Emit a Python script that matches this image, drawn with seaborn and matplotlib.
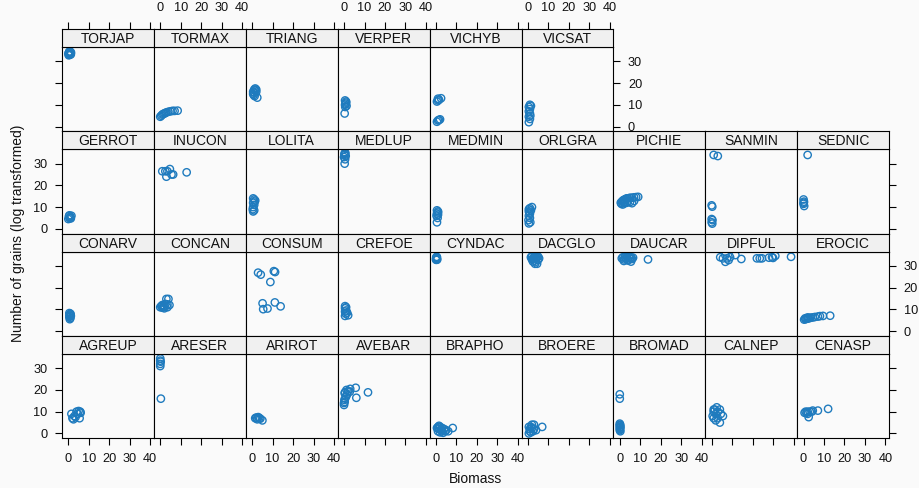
import matplotlib
matplotlib.use("Agg")
import matplotlib.pyplot as plt
import seaborn as sns
import pandas as pd

# ---------------- data ----------------
row_top = ["TORJAP", "TORMAX", "TRIANG", "VERPER", "VICHYB", "VICSAT"]
row_2 = ["GERROT", "INUCON", "LOLITA", "MEDLUP", "MEDMIN", "ORLGRA", "PICHIE", "SANMIN", "SEDNIC"]
row_3 = ["CONARV", "CONCAN", "CONSUM", "CREFOE", "CYNDAC", "DACGLO", "DAUCAR", "DIPFUL", "EROCIC"]
row_bottom = ["AGREUP", "ARESER", "ARIROT", "AVEBAR", "BRAPHO", "BROERE", "BROMAD", "CALNEP", "CENASP"]

species = row_top + row_2 + row_3 + row_bottom

biomass = [
    [0, 0.3, 0.5, 0.8, 1, 1.2, 0.2, 0.6, 1, 0.4, 0.9, 1.3],
    [0, 0.5, 1, 1.5, 2, 2.5, 3, 4, 5, 6, 7, 8.5],
    [0.5, 1, 1.5, 2, 0.5, 1, 0.8, 2.5, 1.5, 1.2, 2],
    [0.5, 1, 0.8, 0.5, 1.2, 0.6, 0.3, 1],
    [0.5, 1, 1.5, 2.5, 1, 0.5, 1.5, 2, 1],
    [1, 1.5, 0.5, 1, 0.5, 1, 0.5, 1, 0.5, 1.2],
    [0, 0.5, 1, 1.5, 0.5, 1, 0.3, 1.2],
    [1, 2.5, 3.5, 4.7, 3, 5.5, 6.3, 12.9],
    [0.5, 1, 1.5, 0.5, 1, 0.5, 0.3, 0.5, 1, 1.2],
    [0, 0.3, 0.5, 0.2, 0.8, 0.5, 0.3, 0.6],
    [0.5, 1, 0.5, 1, 0.3, 0.8, 0.5, 1],
    [0.5, 1, 2, 1.5, 0.5, 1, 0.5, 1, 0.3, 1.2, 0.5, 0.8],
    [0.5, 1, 1.5, 2, 2.5, 3, 3.5, 4, 5, 6, 7, 8, 9, 0.8, 1.5, 2.5, 3.5, 5, 7, 2, 4, 6],
    [1, 3, 0, 0.3, 0, 0.4, 0, 0.3],
    [2, 0, 0.2, 0, 0.3, 0.1],
    [0.5, 1, 0.8, 0.5, 1.2, 0.5, 1, 0.7, 1],
    [0, 0.5, 1, 1.5, 2, 2.5, 3, 4, 4.5, 3.5, 1, 2, 3.5],
    [2.9, 4.2, 10.6, 11.2, 8.9, 5.1, 5.4, 7.5, 11.1, 13.9],
    [0.5, 1, 0.5, 1, 0.5, 1.5, 0.8, 2, 0.5],
    [0, 0.3, 0.5, 0.2, 0.5, 0.3, 0.1, 0.6],
    [1.5, 2, 2.5, 3, 3.5, 4, 4.5, 5, 5.5, 2, 3, 4, 3.5, 4.5, 2.5, 5],
    [1, 1.5, 2, 2.5, 3, 3.5, 4, 4.5, 5, 5.5, 6, 6.5, 2, 4, 5.5, 13.8],
    [4.2, 5.5, 6.7, 8.3, 6.7, 7.5, 9, 11.6, 14.5, 22.1, 23.5, 24.6, 28, 29.5, 31.1, 30, 38.8],
    [0.3, 1, 1.5, 2, 2.5, 3, 3.5, 4.5, 5.5, 7, 8, 9.5, 13, 0.8, 2],
    [1.5, 2.5, 3, 4, 5, 5.5, 6, 4.5, 3.5, 5.8, 2],
    [0, 0, 0.2, 0, 0, 0.3],
    [1.5, 2, 2.5, 3, 3.5, 4, 5, 2.5],
    [0, 0.2, 0.3, 1.2, 2.8, 5.7, 6, 11.7, 0, 0.5, 1, 0.5, 2, 1.5, 3, 0.3],
    [0.5, 1, 1.5, 2, 2.5, 3, 1, 2, 3, 4, 4.5, 5, 6, 8.2, 1.5, 3.5],
    [0.5, 1, 1, 1.5, 2, 2.5, 3, 3, 4, 7, 0.5, 1.5, 2],
    [0, 0, 0, 0.2, 0, 0.3, 0, 0.2, 0, 0.3, 0.1, 0.2],
    [0.5, 1, 1.5, 2, 2, 3, 3, 4, 4.5, 5.5, 4, 1, 2.5, 1],
    [0.5, 1, 1.5, 2, 2.5, 3, 4, 4.5, 7, 12, 2],
]

grains = [
    [33.5, 34, 34.5, 34.2, 33.8, 33.2, 32.8, 33, 34.4, 34.2, 33.2, 34],
    [4.5, 5, 5.5, 5.8, 6, 6.2, 6.5, 6.8, 7, 7.2, 7.2, 7.3],
    [16, 17, 17.5, 17, 15, 15.5, 14.5, 13.3, 16.5, 14, 16],
    [12, 11.5, 10.5, 10, 9.5, 9, 6, 11],
    [11.5, 12, 12.3, 13, 12.8, 2.2, 3, 3.3, 2.8],
    [10, 9.5, 9, 8, 7, 6, 4.5, 3.5, 2, 5],
    [4.5, 5, 5.5, 6, 6.2, 5, 5.8, 4.8],
    [26.5, 26.5, 26.5, 27.5, 24, 25, 25, 26],
    [14, 13.5, 13, 12, 11, 10, 9, 8, 8.5, 12.5],
    [33, 34, 35, 34.5, 33.5, 32, 30, 34.8],
    [8.5, 8, 7, 6.5, 6, 5, 3, 7.5],
    [9, 9.5, 10, 8.5, 8, 7, 6, 5, 4, 3, 2.5, 7.5],
    [12, 12.5, 13, 13.3, 13.5, 13.8, 14, 14, 14.3, 14.3, 14.5, 14.6, 14.7, 11.5, 11.2, 11.8, 12, 12.3, 12.8, 12.2, 12.8, 11.8],
    [34, 33.5, 10.8, 10.2, 4.5, 4, 3, 2.4],
    [34, 13.5, 12.5, 11.5, 10.5, 12],
    [8.3, 8, 7.5, 7, 7, 6.5, 6, 5.5, 7.8],
    [11, 11.5, 12, 11, 11.5, 12.5, 14.8, 14.8, 12, 12.3, 10.8, 10.5, 11],
    [26.9, 26, 27.6, 27.2, 22.6, 12.8, 10.1, 10.4, 13.2, 11.4],
    [11.5, 11, 10.5, 9.5, 9, 8.5, 8, 7.3, 7],
    [33, 33.5, 34, 32.8, 33.2, 34.2, 33.8, 32.9],
    [34, 34.5, 33.5, 34, 34.5, 33.8, 34, 34.3, 33.5, 33, 32.5, 32, 31, 31, 32, 32.8],
    [33.5, 34, 33, 34, 33.5, 34, 33, 34, 33.5, 34, 33.2, 33.8, 32.3, 32.5, 32, 33],
    [34, 33.5, 35, 32.7, 31.9, 33.5, 34, 35, 33.2, 33.5, 33.5, 33.5, 33.8, 34, 34.6, 33.7, 34.2],
    [5.3, 5.5, 5.7, 5.8, 6, 6, 6.2, 6.3, 6.5, 6.7, 6.9, 7, 7.1, 5.9, 6.3],
    [9, 6.5, 8, 10, 10.3, 7, 9.5, 9, 7.5, 10, 7],
    [34.5, 33.5, 33, 32, 31, 16],
    [7, 7.3, 7, 7.5, 7, 6.8, 6, 6.5],
    [13.1, 15.4, 18.5, 20, 19.2, 21, 16.4, 18.9, 14, 16, 17, 19, 19.5, 18, 20.5, 14.5],
    [2.5, 3, 2, 3, 1.5, 2.5, 1, 0.5, 1, 2, 1, 1.5, 1, 2.5, 3.5, 0.3],
    [0, 1, 2, 3, 2.5, 1, 4, 2, 1.5, 3, 3, 0.5, 4],
    [18, 16, 4.5, 4, 3.5, 3, 2.5, 2, 1.5, 1, 3.8, 2.8],
    [8, 10, 11, 9, 6, 7, 10, 11, 9, 8, 5, 7, 12, 11],
    [9.5, 10, 9.5, 10, 7.5, 10, 10, 10.5, 10.5, 11.3, 9],
]

x_ticks = [0, 10, 20, 30, 40]
y_ticks = [0, 10, 20, 30]

# ---------------- style ----------------
sns.set_theme(style="white")
plt.rcParams["font.family"] = ["Liberation Sans", "DejaVu Sans"]

W, H = 919, 488
BG = "#FAFAFA"
BLUE = "#1F7BBE"
XLIM = (-3.1, 41.8)
YLIM = (-2.2, 36.6)

rows = []
for name, xs, ys in zip(species, biomass, grains):
    for xv, yv in zip(xs, ys):
        rows.append({"species": name, "Biomass": xv, "Grains": yv})
df = pd.DataFrame(rows)

fig = plt.figure(figsize=(W / 100, H / 100), dpi=100, facecolor=BG)

LEFT0, COLW = 62.0, 91.9
TOP0, ROWH, STRIPH = 29.0, 102.3, 18.0


def frect(l, t, w, h):
    return [l / W, 1 - (t + h) / H, w / W, h / H]


layout = [row_top, row_2, row_3, row_bottom]
tick_kw = dict(direction="out", length=5, width=0.8, colors="black",
               labelsize=9.2, labelcolor="#111111", pad=5.5)

for r, names in enumerate(layout):
    for c, name in enumerate(names):
        l = LEFT0 + COLW * c
        t = TOP0 + ROWH * r
        ax = fig.add_axes(frect(l, t + STRIPH, COLW, ROWH - STRIPH))
        sax = fig.add_axes(frect(l, t, COLW, STRIPH))
        sub = df[df["species"] == name]
        sns.scatterplot(data=sub, x="Biomass", y="Grains", ax=ax, marker="o",
                        s=28, facecolors="none", edgecolor=BLUE, linewidth=1.0,
                        legend=False)
        ax.set_xlim(*XLIM)
        ax.set_ylim(*YLIM)
        ax.set_facecolor(BG)
        ax.set_xlabel("")
        ax.set_ylabel("")
        for sp in ax.spines.values():
            sp.set_visible(True)
            sp.set_color("black")
            sp.set_linewidth(0.8)
        ax.set_xticks(x_ticks)
        ax.set_yticks(y_ticks)
        ax.tick_params(axis="both", **tick_kw)
        ncols = len(names)
        is_bottom = r == len(layout) - 1
        ax.tick_params(axis="x", bottom=is_bottom, top=False,
                       labelbottom=is_bottom and c % 2 == 0, labeltop=False)
        left_edge = c == 0
        right_edge = c == ncols - 1
        ax.tick_params(axis="y", left=left_edge, right=right_edge,
                       labelleft=left_edge and r % 2 == 1,
                       labelright=right_edge and r % 2 == 0)

        # strip
        sax.set_xlim(*XLIM)
        sax.set_ylim(0, 1)
        sax.set_facecolor("#F0F0F0")
        for sp in sax.spines.values():
            sp.set_visible(True)
            sp.set_color("black")
            sp.set_linewidth(0.8)
        sax.set_yticks([])
        sax.set_xticks(x_ticks)
        sax.tick_params(axis="x", **tick_kw)
        sax.tick_params(axis="x", bottom=False, labelbottom=False,
                        top=(r == 0), labeltop=(r == 0 and c % 2 == 1))
        sax.text(0.5, 0.45, name, transform=sax.transAxes, ha="center",
                 va="center", fontsize=10, color="#111111")

fig.text(18 / W, 1 - 233 / H, "Number of grains (log transformed)",
         rotation=90, ha="center", va="center", fontsize=10, color="#111111")
fig.text(476 / W, 1 - 479 / H, "Biomass", ha="center", va="center",
         fontsize=10, color="#111111")

fig.savefig("out.png", dpi=100, facecolor=BG)
